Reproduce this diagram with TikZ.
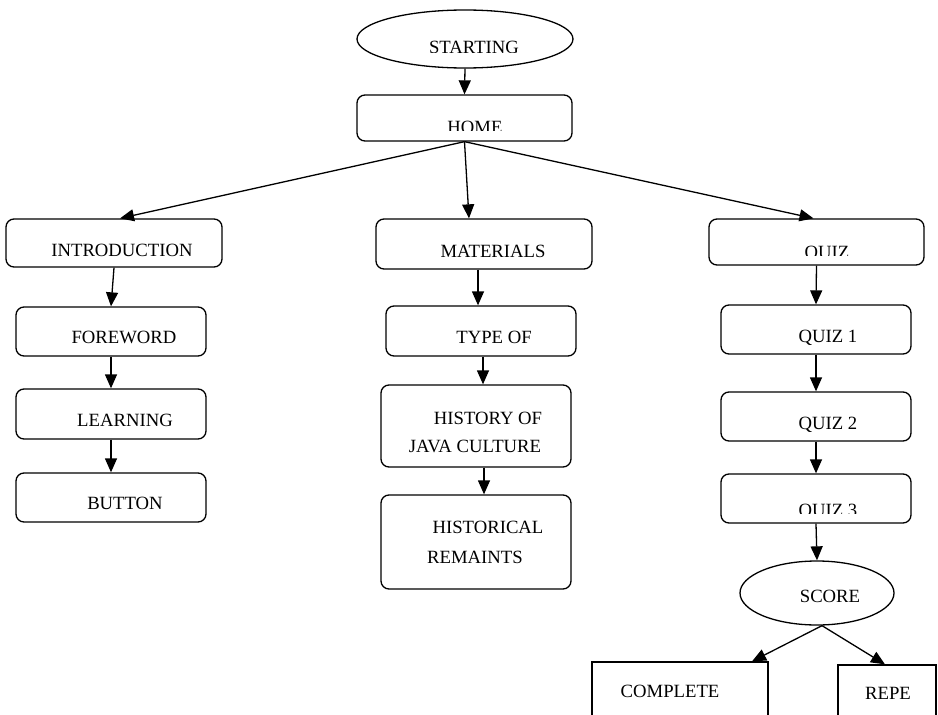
\documentclass[tikz,border=0pt]{standalone}
\usepackage{fontspec}
\setmainfont{Liberation Serif}
\usetikzlibrary{arrows.meta,shapes.geometric}
\tikzset{
  rbox/.style={draw, rounded corners=8pt, line width=1.3pt, inner sep=0pt},
  sbox/.style={draw, line width=1.3pt, inner sep=0pt},
  ovalbox/.style={draw, ellipse, line width=1.3pt, inner sep=0pt},
  txt/.style={font=\fontsize{18.7}{22}\selectfont, anchor=base, inner sep=0pt},
  conn/.style={line width=1.3pt, -{Triangle[length=14pt,width=12pt]}}
}
\begin{document}
\begin{tikzpicture}[x=1pt,y=-1pt]
\clip (0,0) rectangle (938,715);
\fill[white] (0,0) rectangle (938,715);
% shapes
\node[ovalbox, minimum width=216, minimum height=58] (start) at (465,39) {};
\node[rbox, minimum width=215, minimum height=46] (home) at (464.5,118) {};
\node[rbox, minimum width=216, minimum height=48] (intro) at (114,243) {};
\node[rbox, minimum width=190, minimum height=49] (fore) at (111,331.5) {};
\node[rbox, minimum width=190, minimum height=50] (learn) at (111,414) {};
\node[rbox, minimum width=190, minimum height=49] (button) at (111,497.5) {};
\node[rbox, minimum width=216, minimum height=50] (mat) at (484,244) {};
\node[rbox, minimum width=190, minimum height=50] (type) at (481,331) {};
\node[rbox, minimum width=190, minimum height=82] (hist) at (476,426) {};
\node[rbox, minimum width=190, minimum height=94] (rem) at (476,542) {};
\node[rbox, minimum width=215, minimum height=46] (quiz) at (816.5,242) {};
\node[rbox, minimum width=190, minimum height=49] (qa) at (816,329.5) {};
\node[rbox, minimum width=190, minimum height=49] (qb) at (816,416.5) {};
\node[rbox, minimum width=190, minimum height=49] (qc) at (816,498.5) {};
\node[ovalbox, minimum width=154, minimum height=64] (score) at (817,593) {};
\node[sbox, minimum width=176, minimum height=78] (complete) at (680,701) {};
\node[sbox, minimum width=98, minimum height=75] (repe) at (887,702.5) {};
% texts (some cut off at the bottom, as in the source)
\begin{scope}
  \clip (350,20) rectangle (580,52);
  \node[txt] (tstart) at (474,53) {STARTING};
\end{scope}
\begin{scope}
  \clip (350,100) rectangle (580,130);
  \node[txt] (thome) at (475,133) {HOME};
\end{scope}
\node[txt] (tintro) at (122,256) {INTRODUCTION};
\node[txt] (tfore) at (124,343) {FOREWORD};
\node[txt] (tlearn) at (125,426) {LEARNING};
\node[txt] (tbutton) at (125,509) {BUTTON};
\node[txt] (tmat) at (493,257) {MATERIALS};
\node[txt] (ttype) at (494,343) {TYPE OF};
\node[txt] (thista) at (488,424) {HISTORY OF};
\node[txt] (thistb) at (475,452) {JAVA CULTURE};
\node[txt] (trema) at (488,533) {HISTORICAL};
\node[txt] (tremb) at (475,563) {REMAINTS};
\begin{scope}
  \clip (710,225) rectangle (920,255);
  \node[txt] (tquiz) at (827,258) {QUIZ};
\end{scope}
\node[txt] (tqa) at (828,342) {QUIZ 1};
\node[txt] (tqb) at (828,429) {QUIZ 2};
\begin{scope}
  \clip (725,480) rectangle (905,513);
  \node[txt] (tqc) at (828,516) {QUIZ 3};
\end{scope}
\node[txt] (tscore) at (830,602) {SCORE};
\node[txt] (tcomplete) at (670,697) {COMPLETE};
\node[txt] (trepe) at (888,699) {REPE};
% connectors
\draw[conn] (start.south) -- (home.north);
\draw[conn] (home.south) -- ([xshift=6]intro.north);
\draw[conn] (home.south) -- ([xshift=-15]mat.north);
\draw[conn] (home.south) -- ([xshift=-3]quiz.north);
\draw[conn] (intro.south) -- (fore.north);
\draw[conn] (fore.south) -- (learn.north);
\draw[conn] (learn.south) -- (button.north);
\draw[conn] ([xshift=-6]mat.south) -- ([xshift=-3]type.north);
\draw[conn] ([xshift=2]type.south) -- ([xshift=7]hist.north);
\draw[conn] ([xshift=8]hist.south) -- ([xshift=8]rem.north);
\draw[conn] (quiz.south) -- (qa.north);
\draw[conn] (qa.south) -- (qb.north);
\draw[conn] (qb.south) -- (qc.north);
\draw[conn] (qc.south) -- (score.north);
\draw[conn] ([xshift=5]score.south) -- ([xshift=72]complete.north);
\draw[conn] ([xshift=5]score.south) -- ([xshift=-2]repe.north);
\end{tikzpicture}
\end{document}
